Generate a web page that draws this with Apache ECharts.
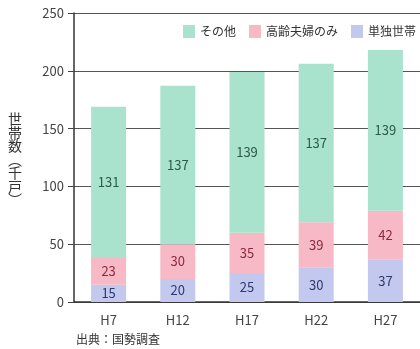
<!DOCTYPE html>
<html><head><meta charset="utf-8">
<script src="https://cdn.jsdelivr.net/npm/echarts@6/dist/echarts.min.js"></script>
<style>html,body{margin:0;padding:0;background:#fff;}#c{width:420px;height:349px;}</style>
</head><body><div id="c"></div>
<script>
const categories = ['H7', 'H12', 'H17', 'H22', 'H27'];
const single = [15, 20, 25, 30, 37];
const elderly = [23, 30, 35, 39, 42];
const other = [131, 137, 139, 137, 139];
const seriesNames = ['その他', '高齢夫婦のみ', '単独世帯'];
const yTicks = [0, 50, 100, 150, 200, 250];

const font = '"Noto Sans CJK JP", "Noto Sans", sans-serif';
const chart = echarts.init(document.getElementById('c'), null, {renderer: 'canvas'});

function seg(name, data, color, labelColor) {
  return {
    name: name, type: 'bar', stack: 'total', data: data, barWidth: 35,
    itemStyle: {color: color},
    label: {show: true, position: 'inside', color: labelColor, fontSize: 13, fontFamily: font},
    emphasis: {disabled: true}
  };
}

chart.setOption({
  animation: false,
  backgroundColor: '#ffffff',
  textStyle: {fontFamily: font},
  grid: {left: 74, right: -4, top: 13, bottom: 47, containLabel: false},
  legend: {
    data: seriesNames, left: 183, top: 25, width: 260, orient: 'horizontal',
    itemWidth: 12, itemHeight: 13, itemGap: 13, padding: [0, 0, 0, 0],
    icon: 'rect', textStyle: {fontSize: 12, color: '#333', fontFamily: font},
    backgroundColor: '#ffffff'
  },
  xAxis: {
    type: 'category', data: categories,
    axisLine: {lineStyle: {color: '#333', width: 1.5}},
    axisTick: {show: false},
    axisLabel: {color: '#444', fontSize: 13, margin: 12, fontFamily: font}
  },
  yAxis: {
    type: 'value', min: yTicks[0], max: yTicks[yTicks.length - 1], interval: 50,
    axisLine: {show: true, lineStyle: {color: '#333', width: 1.5}},
    axisTick: {show: true, length: 6, lineStyle: {color: '#444'}},
    axisLabel: {color: '#444', fontSize: 13, margin: 10, fontFamily: font},
    splitLine: {lineStyle: {color: '#555', width: 1}}
  },
  graphic: [
    {type: 'text', left: 8, top: 112, style: {text: '世\n帯\n数\n︵\n千\n戸\n︶', fontSize: 14, fontFamily: font, lineHeight: 13.5, fill: '#333'}},
    {type: 'text', left: 76, top: 333, style: {text: '出典：国勢調査', fontSize: 12, fontFamily: font, fill: '#333'}}
  ],
  series: [
    seg(seriesNames[2], single, '#c3c8ee', '#2c3a6e'),
    seg(seriesNames[1], elderly, '#f7b9c6', '#8a2a3c'),
    seg(seriesNames[0], other, '#a9e2cd', '#2c5a4a')
  ]
});
</script></body></html>
